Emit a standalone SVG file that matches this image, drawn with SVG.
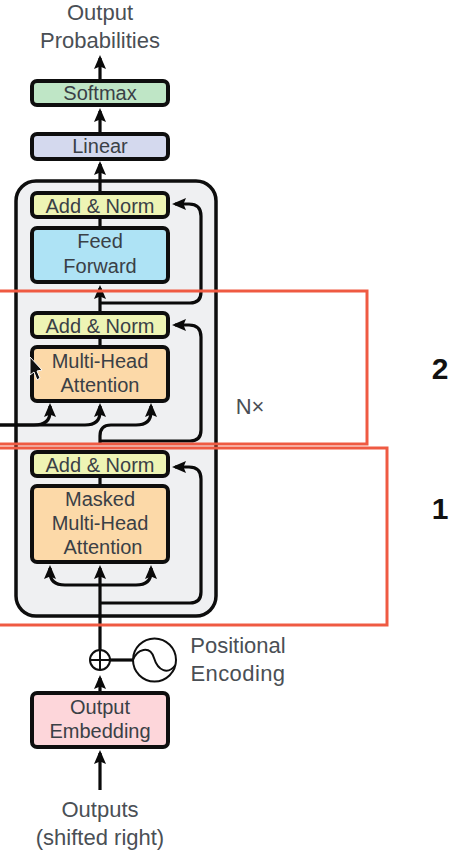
<svg xmlns="http://www.w3.org/2000/svg" width="476" height="863" viewBox="0 0 476 863">
<defs>
<marker id="arrow" markerUnits="userSpaceOnUse" markerWidth="16" markerHeight="14" refX="11" refY="6.500" orient="auto"><path d="M0 0.500 L14 6.500 L0 12.500 L2.500 6.500 Z" fill="#0a0a0a"/></marker>
</defs>
<style>
text{font-family:"Liberation Sans",Arial,sans-serif;font-size:20px;fill:#3a4046;text-anchor:middle}
.lab{font-size:22px;fill:#4a4f55}
.box{stroke:#0e0e0e;stroke-width:4}
.c{fill:none;stroke:#0a0a0a;stroke-width:3.2}
.a{marker-end:url(#arrow)}
.red{fill:none;stroke:#ef5a42;stroke-width:3}
.big{font-size:30px;font-weight:bold;fill:#111}
</style>
<rect width="476" height="863" fill="#fff"/>
<g id="stack"><rect x="16" y="181" width="200" height="435" rx="20" fill="#eff0f2" stroke="#0e0e0e" stroke-width="3.5"/></g>
<g id="connectors">
<path class="c a" d="M100 80V58"/>
<path class="c a" d="M100 134V111"/>
<path class="c a" d="M100 193V164"/>
<path class="c" d="M100 228V216"/>
<path class="c a" d="M100 313V288"/>
<path class="c a" d="M100 303H190Q201 303 201 292V216Q201 204 189 204H175"/>
<path class="c" d="M100 347V336"/>
<path class="c a" d="M100 445V436Q100 425 111 425H136Q151 425 151 412V406"/>
<path class="c a" d="M0 425H34Q50 425 50 412V406"/>
<path class="c a" d="M0 425H85Q100 425 100 412V406"/>
<path class="c a" d="M100 441H190Q201 441 201 430V337Q201 325 189 325H175"/>
<path class="c" d="M100 486V475"/>
<path class="c a" d="M100 650V568"/>
<path class="c a" d="M100 585H65Q50 585 50 572V568"/>
<path class="c a" d="M100 585H136Q151 585 151 572V568"/>
<path class="c a" d="M100 603H190Q201 603 201 592V479Q201 467 189 467H175"/>
<path class="c a" d="M100 693V678"/>
<path class="c a" d="M100 790V753"/>
<path class="c" d="M110 660H133"/>
</g>
<g id="softmax"><rect class="box" x="32" y="81" width="136" height="24" rx="5" fill="#bfe6c6"/><text x="100" y="100">Softmax</text></g>
<g id="linear"><rect class="box" x="32" y="134" width="136" height="25" rx="5" fill="#d4d9ee"/><text x="100" y="153">Linear</text></g>
<g id="addnorm3"><rect class="box" x="32" y="193" width="136" height="24" rx="5" fill="#eef4b4"/><text x="100" y="213">Add &amp; Norm</text></g>
<g id="feedforward"><rect class="box" x="32" y="228" width="136" height="54" rx="5" fill="#aee3f5"/><text x="100" y="248">Feed</text><text x="100" y="273">Forward</text></g>
<g id="addnorm2"><rect class="box" x="32" y="313" width="136" height="24" rx="5" fill="#eef4b4"/><text x="100" y="333">Add &amp; Norm</text></g>
<g id="multihead"><rect class="box" x="32" y="347" width="136" height="54" rx="5" fill="#fcd9a8"/><text x="100" y="368">Multi-Head</text><text x="100" y="392">Attention</text></g>
<g id="addnorm1"><rect class="box" x="32" y="452" width="136" height="24" rx="5" fill="#eef4b4"/><text x="100" y="472">Add &amp; Norm</text></g>
<g id="masked"><rect class="box" x="32" y="486" width="136" height="76" rx="5" fill="#fcd9a8"/><text x="100" y="506">Masked</text><text x="100" y="530">Multi-Head</text><text x="103" y="554">Attention</text></g>
<g id="embedding"><rect class="box" x="32" y="693" width="136" height="54" rx="5" fill="#fdd6da"/><text x="100" y="714">Output</text><text x="100" y="738">Embedding</text></g>
<g id="plus"><circle cx="100" cy="660" r="10" fill="#fff" stroke="#0e0e0e" stroke-width="2"/><path d="M90 660H110M100 650V670" stroke="#0e0e0e" stroke-width="2"/></g>
<g id="positional"><circle cx="154.500" cy="660" r="21.500" fill="#fff" stroke="#0e0e0e" stroke-width="2"/><path d="M133 660C137 649 150 645 154 658C158 671 168 675 175.500 665" fill="none" stroke="#0e0e0e" stroke-width="2"/><text class="lab" x="238" y="653">Positional</text><text class="lab" x="238" y="681" letter-spacing="0.4">Encoding</text></g>
<g id="labels">
<text class="lab" x="100" y="20">Output</text><text class="lab" x="100" y="48">Probabilities</text>
<text class="lab" x="100" y="817">Outputs</text><text class="lab" x="100" y="845">(shifted right)</text>
<text class="lab" x="250" y="414">N×</text>
</g>
<g id="annotations">
<rect class="red" x="-5" y="291" width="372" height="153"/>
<rect class="red" x="-5" y="448" width="392" height="177"/>
<text class="big" x="440" y="379">2</text>
<text class="big" x="440" y="519">1</text>
</g>
<path id="cursor" d="M30 357V375L34 372L37 380L40 378L37 371L42 370Z" fill="#111" stroke="#fff" stroke-width="1"/>
</svg>
